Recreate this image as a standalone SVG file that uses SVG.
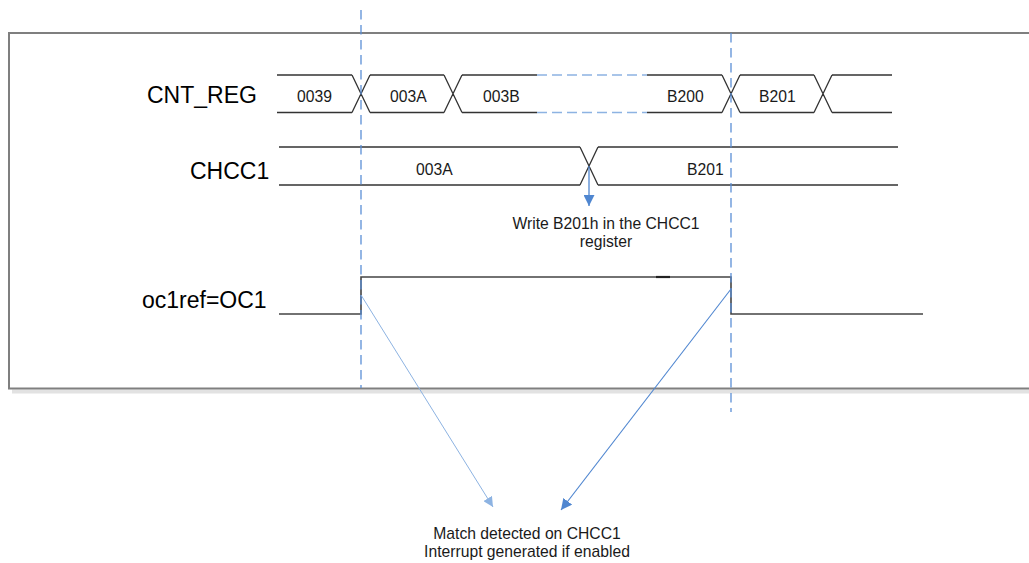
<svg xmlns="http://www.w3.org/2000/svg" width="1029" height="563" viewBox="0 0 1029 563">
<style>
.sig{fill:none;stroke:#333;stroke-width:1.3}
.lvl{fill:none;stroke:#444;stroke-width:1.6}
.vd{fill:none;stroke:#5b8fd6;stroke-width:1.3;stroke-dasharray:9.5 5.5}
.bd{fill:none;stroke:#8db3e2;stroke-width:1.3;stroke-dasharray:10 5}
.big{font-family:"Liberation Sans",Arial,sans-serif;font-size:23px;fill:#000}
.sm{font-family:"Liberation Sans",Arial,sans-serif;font-size:15.7px;fill:#1a1a1a}
</style>
<defs>
<marker id="ahL" viewBox="0 0 10 10" refX="10" refY="5" markerWidth="10" markerHeight="10" markerUnits="userSpaceOnUse" orient="auto"><path d="M0,0 L10,5 L0,10 z" fill="#8db3e2"/></marker>
<marker id="ahB" viewBox="0 0 10 10" refX="10" refY="5" markerWidth="11" markerHeight="11" markerUnits="userSpaceOnUse" orient="auto"><path d="M0,0 L10,5 L0,10 z" fill="#4f86d0"/></marker>
</defs>
<rect width="1029" height="563" fill="#fff"/>
<g id="frame">
<rect x="12" y="389.5" width="1030" height="4" fill="#e2e2e2"/>
<rect x="9" y="33" width="1030" height="355.5" fill="none" stroke="#7f7f7f" stroke-width="2"/>
</g>
<g id="cnt_reg">
<text class="big" x="147" y="103">CNT_REG</text>
<path class="sig" d="M277 75H352M370 75H444M462 75H537M647 75H722M740 75H814M832 75H892M277 112.5H352M370 112.5H444M462 112.5H537M647 112.5H722M740 112.5H814M832 112.5H892M352 75L370 112.5M352 112.5L370 75M444 75L462 112.5M444 112.5L462 75M722 75L740 112.5M722 112.5L740 75M814 75L832 112.5M814 112.5L832 75"/>
<path class="bd" d="M537 75H647M537 112.5H647"/>
<text class="sm" x="297" y="102">0039</text>
<text class="sm" x="390" y="102">003A</text>
<text class="sm" x="483" y="102">003B</text>
<text class="sm" x="667" y="102">B200</text>
<text class="sm" x="759" y="102">B201</text>
</g>
<g id="chcc1">
<text class="big" x="190" y="179">CHCC1</text>
<path class="sig" d="M279 147H580M598 147H898M279 185H580M598 185H898M580 147L598 185M580 185L598 147"/>
<text class="sm" x="416" y="175">003A</text>
<text class="sm" x="687" y="175">B201</text>
</g>
<g id="oc1ref">
<text class="big" x="142" y="308">oc1ref=OC1</text>
<path class="lvl" d="M279 314H361V277H731V314H923"/>
<path d="M656 277H670" stroke="#222" stroke-width="2.2"/>
</g>
<g id="markers">
<path class="vd" d="M361 10V388"/>
<path class="vd" d="M731 33V412"/>
</g>
<g id="write_note">
<text class="sm" x="606" y="229" text-anchor="middle">Write B201h in the CHCC1</text>
<text class="sm" x="606" y="247" text-anchor="middle">register</text>
</g>
<g id="match_note">
<text class="sm" x="527" y="539" text-anchor="middle">Match detected on CHCC1</text>
<text class="sm" x="527" y="557" text-anchor="middle">Interrupt generated if enabled</text>
</g>
<g id="connectors">
<path d="M589 166V206" stroke="#4f86d0" stroke-width="1.3" fill="none" marker-end="url(#ahB)"/>
<path d="M361 295L493 507" stroke="#8db3e2" stroke-width="1" fill="none" marker-end="url(#ahL)"/>
<path d="M731 289L561 510" stroke="#4f86d0" stroke-width="1.1" fill="none" marker-end="url(#ahB)"/>
</g>
</svg>
